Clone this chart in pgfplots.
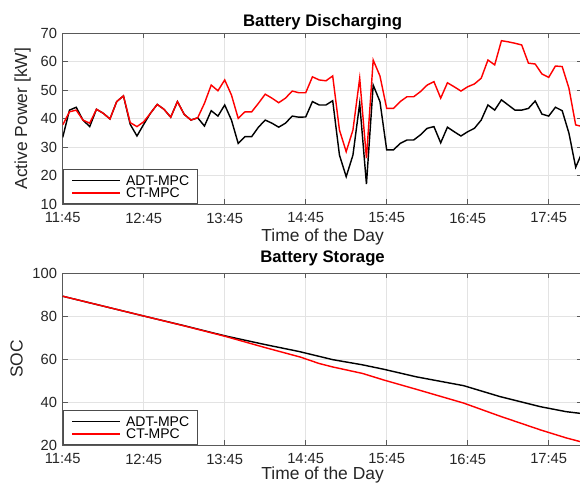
\documentclass[border=0pt]{standalone}
\usepackage{fontspec}
\setmainfont{Liberation Sans}
\usepackage{pgfplots}
\usepackage{pgfplotstable}
\pgfplotsset{compat=1.18}

% t = minutes after 11:45
\pgfplotstableread{
t adt ct
0 33.4 37.8
5 43.0 42.4
10 44.0 43.0
15 39.5 39.5
20 37.2 38.4
25 43.3 43.3
30 41.9 41.9
35 39.9 39.9
40 46.0 46.0
45 48.0 48.0
50 38.0 38.6
55 33.9 37.2
60 38.0 38.9
65 41.9 41.9
70 45.0 45.0
75 43.3 43.3
80 40.5 40.5
85 46.0 46.0
90 41.5 41.5
95 39.5 39.5
100 40.3 40.3
105 37.4 45.4
110 42.8 51.8
115 40.9 49.8
120 44.8 53.6
125 39.5 48.3
130 31.3 40.1
135 33.7 42.4
140 33.7 42.4
145 37.0 45.4
150 39.5 48.6
155 38.4 47.2
160 37.0 45.6
165 38.4 47.2
170 40.9 49.7
175 40.5 49.1
180 40.6 49.1
185 46.0 54.7
190 44.8 53.6
195 44.8 53.3
200 46.3 55.0
205 27.2 36.0
210 19.6 28.4
215 27.2 36.0
220 45.4 54.2
225 17.0 26.1
230 51.8 60.6
235 46.0 55.0
240 29.0 43.6
245 29.0 43.6
250 31.3 46.0
255 32.5 47.7
260 32.5 47.7
265 34.3 49.5
270 36.6 51.8
275 37.2 53.0
280 31.5 47.2
285 37.0 52.6
290 35.4 51.2
295 33.9 49.7
300 35.4 51.2
305 36.6 52.2
310 39.5 54.2
315 44.8 60.6
320 43.0 58.9
325 46.6 67.4
330 44.8 67.0
335 43.0 66.5
340 43.0 65.9
345 43.6 59.5
350 46.2 59.2
355 41.6 55.7
360 40.9 54.5
365 44.0 58.5
370 42.8 58.3
375 34.9 50.7
380 22.9 37.8
385 28.4 37.2
}\power

\pgfplotstableread{
t soc
0 89.2
30 84.6
60 80.0
90 75.5
120 70.8
150 66.7
175 63.5
200 59.7
222 57.3
238 55.2
262 51.7
297 47.6
324 42.5
354 37.8
373 35.5
385 34.6
}\socadt

\pgfplotstableread{
t soc
0 89.2
30 84.6
60 80.0
90 75.4
120 70.6
150 65.3
176 60.9
190 57.9
200 56.3
222 53.3
238 50.2
262 45.9
297 39.5
324 33.4
354 27.0
373 23.3
385 21.3
}\socct

\pgfplotsset{
  mystyle/.style={
    scale only axis, width=363.8pt,
    xmin=0, xmax=385,
    xtick={0,60,120,180,240,300,360},
    xticklabels={11:45,12:45,13:45,14:45,15:45,16:45,17:45},
    grid=major, major grid style={gray!22, line width=0.5pt},
    axis line style={black!65, line width=0.6pt},
    tick pos=both, tick align=inside, major tick length=3.5pt,
    tick style={black!65, line width=0.5pt},
    /pgf/number format/assume math mode=true,
    ticklabel style={font=\fontsize{10.3}{12}\selectfont, text=black!85},
    xticklabel style={inner sep=0pt, anchor=north, yshift=-6pt},
    yticklabel style={inner sep=0pt, anchor=east, xshift=-3.8pt},
    label style={font=\fontsize{12.2}{14}\selectfont, text=black!85},
    xlabel style={at={(axis description cs:0.5,0)}, anchor=north, inner sep=0pt},
    ylabel style={anchor=center, inner sep=0pt},
    title style={font=\fontsize{11.7}{13}\selectfont\bfseries, anchor=base, inner sep=0pt, at={(axis description cs:0.5,1)}},
    legend style={at={(axis description cs:0,0)}, anchor=south west, draw=black!70, line width=0.6pt, fill=white,
      font=\fontsize{9.8}{10}\selectfont, inner xsep=6pt, inner ysep=4pt,
      nodes={inner sep=0pt, text depth=0pt}, row sep=1.9pt, column sep=3.5pt},
    legend cell align=left,
    legend image code/.code={\draw[#1, line width=1pt] (0pt,0pt) -- (33.6pt,0pt);},
    every axis plot/.append style={line width=1pt},
  }
}

\begin{document}
\begin{tikzpicture}
\begin{axis}[mystyle, at={(0pt,168.7pt)}, anchor=south west, height=119.5pt,
  ymin=10, ymax=70, ytick={10,20,30,40,50,60,70},
  title={Battery Discharging}, title style={yshift=-0.9pt},
  xlabel={Time of the Day}, xlabel style={yshift=-17pt},
  ylabel={Active Power [kW]}, ylabel style={at={(axis description cs:-0.077,0.5)}}]
\addplot[black, line width=1pt] table[x=t, y=adt] {\power};
\addlegendentry{ADT-MPC}
\addplot[red, line width=1pt] table[x=t, y=ct] {\power};
\addlegendentry{CT-MPC}
\end{axis}
\begin{axis}[mystyle, at={(0pt,0pt)}, anchor=south west, height=120.4pt,
  ymin=20, ymax=100, ytick={20,40,60,80,100},
  title={Battery Storage}, title style={yshift=1.2pt},
  xlabel={Time of the Day}, xlabel style={yshift=-15.2pt},
  ylabel={SOC}, ylabel style={at={(axis description cs:-0.0885,0.5)}}]
\addplot[black, line width=1pt] table[x=t, y=soc] {\socadt};
\addlegendentry{ADT-MPC}
\addplot[red, line width=1pt] table[x=t, y=soc] {\socct};
\addlegendentry{CT-MPC}
\end{axis}
\pgfresetboundingbox
\path (-43.9pt,-25.9pt) rectangle (362.1pt,311.5pt);
\end{tikzpicture}
\end{document}
